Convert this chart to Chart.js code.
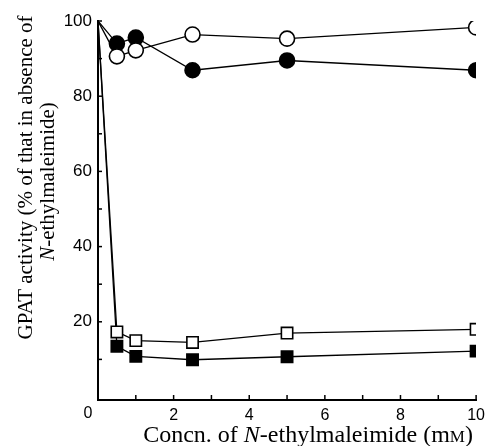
<!DOCTYPE html>
<html>
<head>
<meta charset="utf-8">
<script src="https://cdn.jsdelivr.net/npm/chart.js@4.4.1/dist/chart.umd.min.js"></script>
<style>
  html, body { margin: 0; padding: 0; background: #fff; }
  #wrap { width: 491px; height: 446px; }
</style>
</head>
<body>
<div id="wrap"><canvas id="nemChart" width="491" height="446"></canvas></div>
<script>
// concentration of N-ethylmaleimide (mM)
const conc = [0, 0.5, 1, 2.5, 5, 10];
// GPAT activity, % of control
const openCircles = [100, 90.6, 92.2, 96.4, 95.3, 98.3];
const filledCircles = [100, 94.0, 95.6, 86.9, 89.5, 86.9];
const openSquares = [100, 17.3, 15.0, 14.5, 17.0, 18.0];
const filledSquares = [100, 13.5, 10.8, 9.9, 10.7, 12.2];

const xTickLabels = [0, 2, 4, 6, 8, 10];
const yTickLabels = [20, 40, 60, 80, 100];
const xMinorStep = 1;
const yMinorStep = 10;

const serif = '"Liberation Serif", "DejaVu Serif", serif';
const sans = '"Liberation Sans", Arial, sans-serif';

function pts(ys) {
    return conc.map((x, i) => ({ x: x, y: ys[i] }));
}

// no marker on the shared starting point at zero concentration
function radii(r) {
    return conc.map(x => (x === 0 ? 0 : r));
}

function series(label, ys, style, filled, r) {
    return {
        label: label,
        data: pts(ys),
        borderColor: '#000',
        borderWidth: 1.3,
        pointStyle: style,
        pointRadius: radii(r),
        pointBorderWidth: 1.6,
        pointBorderColor: '#000',
        pointBackgroundColor: filled ? '#000' : '#fff',
        tension: 0,
        fill: false
    };
}

// draw text made of runs with different fonts, centred on x
function drawRuns(ctx, runs, cx, cy) {
    let total = 0;
    runs.forEach(r => { ctx.font = r.font; total += ctx.measureText(r.t).width; });
    let x = cx - total / 2;
    ctx.textBaseline = 'middle';
    ctx.textAlign = 'left';
    runs.forEach(r => {
        ctx.font = r.font;
        ctx.fillText(r.t, x, cy + (r.dy || 0));
        x += ctx.measureText(r.t).width;
    });
}

const paperAxes = {
    id: 'paperAxes',
    afterDraw(chart) {
        const ctx = chart.ctx;
        const xs = chart.scales.x;
        const ys = chart.scales.y;
        const a = chart.chartArea;
        ctx.save();
        ctx.strokeStyle = '#000';
        ctx.fillStyle = '#000';
        ctx.lineWidth = 1.5;
        // inward ticks
        for (let v = 1; v <= 10; v += xMinorStep) {
            const px = xs.getPixelForValue(v);
            ctx.beginPath();
            ctx.moveTo(px, a.bottom);
            ctx.lineTo(px, a.bottom - 5);
            ctx.stroke();
        }
        for (let v = 10; v <= 100; v += yMinorStep) {
            const py = ys.getPixelForValue(v);
            ctx.beginPath();
            ctx.moveTo(a.left, py);
            ctx.lineTo(a.left + 4, py);
            ctx.stroke();
        }
        // origin label
        ctx.font = '16px ' + sans;
        ctx.textAlign = 'center';
        ctx.textBaseline = 'middle';
        ctx.fillText('0', a.left - 10, a.bottom + 14);

        // x title
        const f = '24px ' + serif;
        const fi = 'italic 24px ' + serif;
        const fs = '17px ' + serif;
        drawRuns(ctx, [
            { t: 'Concn. of ', font: f },
            { t: 'N', font: fi },
            { t: '-ethylmaleimide (m', font: f },
            { t: 'M', font: fs, dy: 1.5 },
            { t: ')', font: f }
        ], (a.left + a.right) / 2 + 21, a.bottom + 36);

        // y title, two lines rotated
        ctx.translate(a.left - 72, (a.top + a.bottom) / 2 - 33);
        ctx.rotate(-Math.PI / 2);
        const g = '21px ' + serif;
        const gi = 'italic 21px ' + serif;
        drawRuns(ctx, [{ t: 'GPAT activity (% of that in absence of', font: g }], 0, 0);
        drawRuns(ctx, [
            { t: 'N', font: gi },
            { t: '-ethylmaleimide)', font: g }
        ], -4, 22);
        ctx.restore();
    }
};

new Chart(document.getElementById('nemChart'), {
    type: 'line',
    data: {
        datasets: [
            series('open circles', openCircles, 'circle', false, 7.5),
            series('filled circles', filledCircles, 'circle', true, 7.5),
            series('open squares', openSquares, 'rect', false, 8),
            series('filled squares', filledSquares, 'rect', true, 8)
        ]
    },
    options: {
        responsive: false,
        animation: false,
        layout: { padding: { top: 21, right: 12, left: 0, bottom: 0 } },
        plugins: {
            legend: { display: false },
            tooltip: { enabled: false }
        },
        scales: {
            x: {
                type: 'linear',
                min: 0,
                max: 10,
                afterBuildTicks: s => { s.ticks = xTickLabels.map(v => ({ value: v })); },
                afterFit: s => { s.height = 46; },
                grid: { display: false, drawTicks: false },
                border: { display: true, color: '#000', width: 2 },
                ticks: {
                    color: '#000',
                    padding: 6,
                    maxRotation: 0,
                    font: { family: sans, size: 16 },
                    callback: v => (v === 0 ? '' : String(v))
                }
            },
            y: {
                type: 'linear',
                min: -0.8,
                max: 100,
                afterBuildTicks: s => { s.ticks = yTickLabels.map(v => ({ value: v })); },
                afterFit: s => { s.width = 98; },
                grid: { display: false, drawTicks: false },
                border: { display: true, color: '#000', width: 2 },
                ticks: {
                    color: '#000',
                    padding: 6,
                    font: { family: sans, size: 17 },
                    callback: v => String(v)
                }
            }
        }
    },
    plugins: [paperAxes]
});
</script>
</body>
</html>
